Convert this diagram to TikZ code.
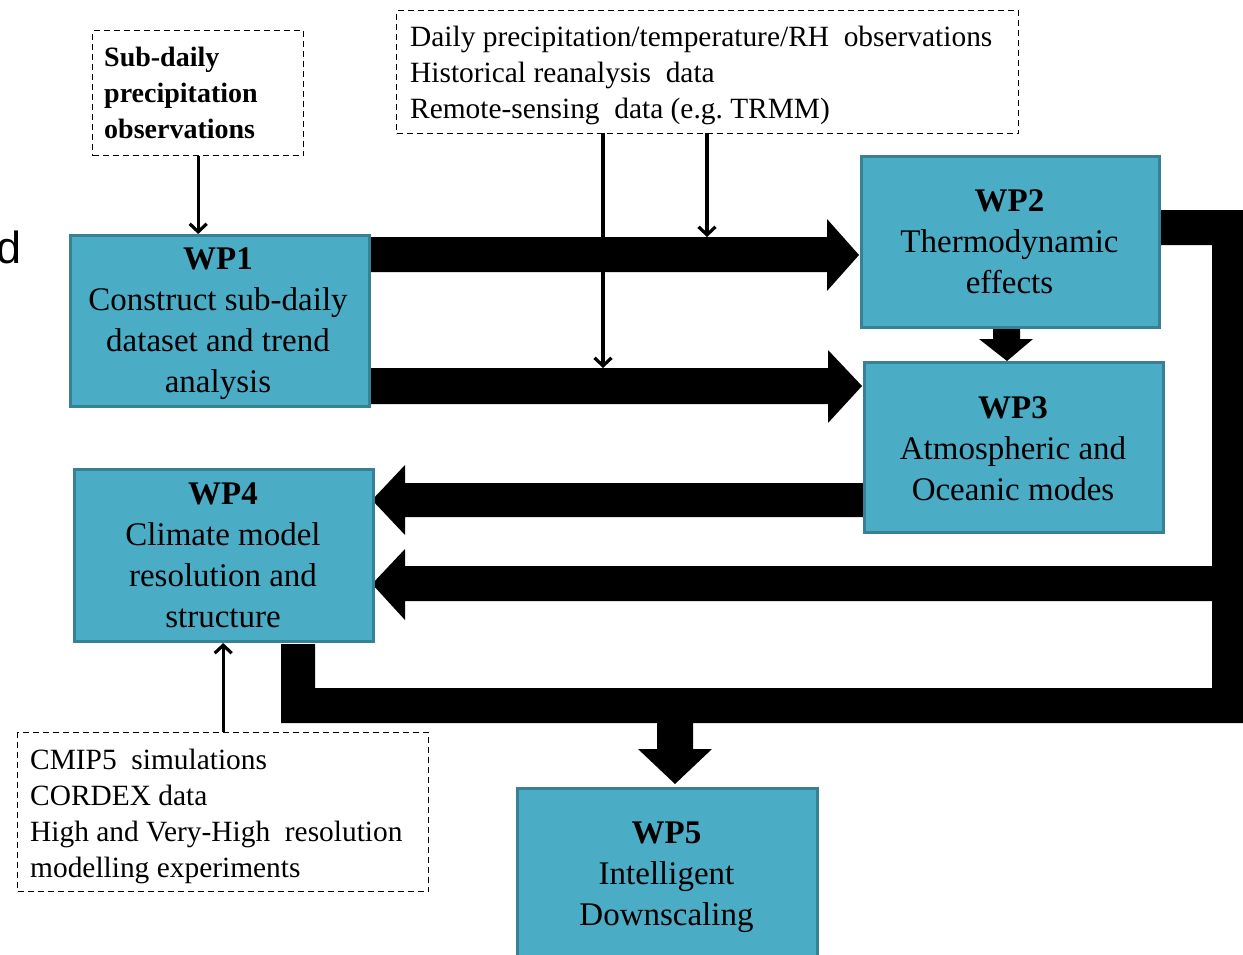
\documentclass[tikz,border=0pt]{standalone}
\usepackage{fontspec}
\setmainfont{Liberation Serif}
\newfontfamily\sansd{Liberation Sans}
\usetikzlibrary{arrows.meta,calc}
\definecolor{wpfill}{RGB}{75,172,198}
\definecolor{wpline}{RGB}{56,128,148}
\begin{document}
\frenchspacing
\begin{tikzpicture}[x=1pt,y=-1pt,
  wp/.style={draw=wpline,fill=wpfill,line width=3pt,anchor=north west,inner sep=0pt},
  wptext/.style={align=center,inner sep=0pt,font=\fontsize{33}{41}\selectfont},
  src/.style={draw=black,dash pattern=on 6pt off 4pt,line width=1.4pt,anchor=north west,inner sep=0pt},
  srctext/.style={anchor=west,align=left,inner sep=0pt},
  thin/.style={line width=3.2pt,-{Straight Barb[length=8pt,width=17pt]}},
  block/.style={fill=black}
]
\useasboundingbox (0,0) rectangle (1243,955);

% cropped fragment at left edge
\node[anchor=base west,inner sep=0pt,font=\sansd\fontsize{45}{45}\selectfont] (frag) at (-4,263) {d};

% block arrows (drawn first, boxes on top)
\fill[block] (366,237) -- (827,237) -- (827,219) -- (859,255) -- (827,291) -- (827,272) -- (366,272) -- cycle;
\fill[block] (366,368) -- (828,368) -- (828,350) -- (862,386) -- (828,423) -- (828,404) -- (366,404) -- cycle;
\fill[block] (993,324) -- (1020,324) -- (1020,339) -- (1033,339) -- (1007,361) -- (979,339) -- (993,339) -- cycle;
\fill[block] (864,483) -- (405,483) -- (405,465) -- (372,500) -- (405,535) -- (405,517) -- (864,517) -- cycle;
\fill[block] (1156,210) -- (1250,210) -- (1250,723) -- (281,723) -- (281,644) -- (315,644) -- (315,688)
   -- (1212,688) -- (1212,601) -- (405,601) -- (405,620) -- (372,584) -- (405,549) -- (405,566)
   -- (1212,566) -- (1212,245) -- (1156,245) -- cycle;
\fill[block] (657,721) -- (693,721) -- (693,749) -- (712,749) -- (675,784) -- (638,749) -- (657,749) -- cycle;

% work packages
\node[wp,minimum width=299pt,minimum height=171pt] (wp1) at (69,234) {};
\node[wp,minimum width=298pt,minimum height=171pt] (wp2) at (860,155) {};
\node[wp,minimum width=299pt,minimum height=170pt] (wp3) at (863,361) {};
\node[wp,minimum width=299pt,minimum height=172pt] (wp4) at (73,468) {};
\node[wp,minimum width=300pt,minimum height=174pt] (wp5) at (516,787) {};
\node[wptext] (wp1t) at ($(wp1.center)+(-2,3)$) {\textbf{WP1}\\Construct sub-daily\\dataset and trend\\analysis};
\node[wptext] (wp2t) at ($(wp2.center)+(-1,0)$) {\textbf{WP2}\\Thermodynamic\\effects};
\node[wptext] (wp3t) at ($(wp3.center)+(-1,1)$) {\textbf{WP3}\\Atmospheric and\\Oceanic modes};
\node[wptext] (wp4t) at ($(wp4.center)+(-1,0)$) {\textbf{WP4}\\Climate model\\resolution and\\structure};
\node[wptext] (wp5t) at ($(wp5.center)+(-1,2)$) {\textbf{WP5}\\Intelligent\\Downscaling};

% data sources
\node[src,minimum width=211pt,minimum height=125pt] (sub) at (92,30) {};
\node[src,minimum width=622pt,minimum height=123pt] (obs) at (396,10) {};
\node[src,minimum width=411pt,minimum height=159pt] (sim) at (17,732) {};
\node[srctext,font=\bfseries\fontsize{28}{36}\selectfont] (subt) at ($(sub.west)+(12,0)$)
  {Sub-daily\\precipitation\\observations};
\node[srctext,font=\fontsize{29.4}{36}\selectfont] (obst) at ($(obs.west)+(14,3)$)
  {Daily precipitation/temperature/RH\ \ observations\\Historical reanalysis\ \ data\\Remote-sensing\ \ data (e.g. TRMM)};
\node[srctext,font=\fontsize{29.4}{36}\selectfont] (simt) at ($(sim.west)+(13,4)$)
  {CMIP5\ \ simulations\\CORDEX data\\High and Very-High\ \ resolution\\modelling experiments};

% thin input arrows
\coordinate (o1) at (603,133);
\coordinate (o2) at (707,133);
\coordinate (e1) at (603,368);
\coordinate (e2) at (707,237);
\draw[thin] (sub.south) -- (sub.south |- wp1.north);
\draw[thin] (o1) -- (e1);
\draw[thin] (o2) -- (e2);
\draw[thin] (sim.north) -- (sim.north |- wp4.south);
\end{tikzpicture}
\end{document}
